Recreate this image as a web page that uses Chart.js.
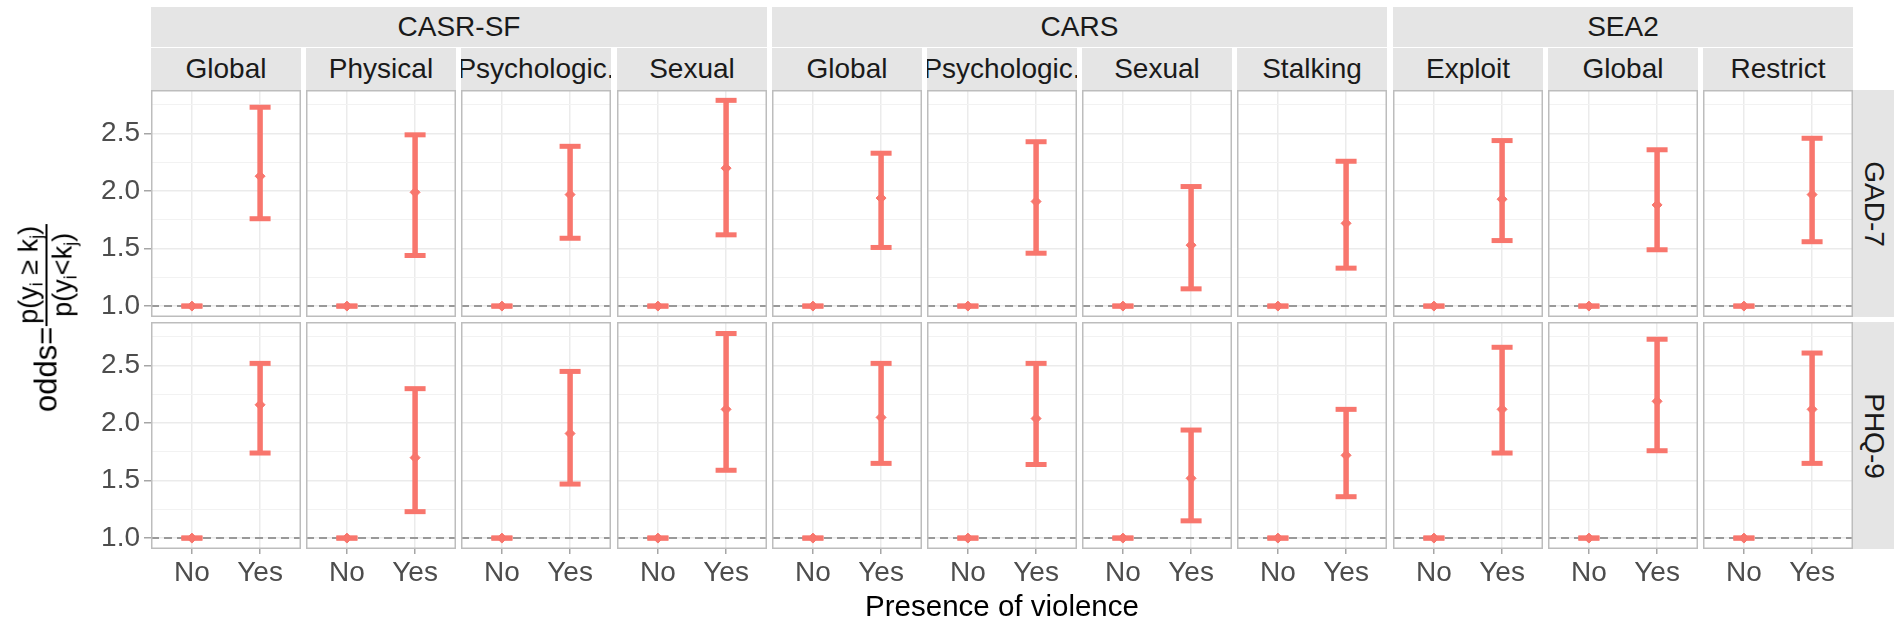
<!DOCTYPE html>
<html>
<head>
<meta charset="utf-8">
<script src="https://cdn.jsdelivr.net/npm/chart.js@4.4.1/dist/chart.umd.min.js"></script>
<style>
    html, body { margin: 0; padding: 0; background: #ffffff; }
    body { width: 1902px; height: 623px; position: relative; overflow: hidden;
           font-family: "Liberation Sans", Arial, sans-serif; }
    .strip { position: absolute; background: #e5e5e5; color: #1a1a1a; font-size: 28px;
             display: flex; align-items: center; justify-content: center;
             overflow: hidden; white-space: nowrap; box-sizing: border-box; }
    .strip-v span { display: inline-block; transform: rotate(90deg); }
    .panel { position: absolute; }
    #x-title { position: absolute; top: 591px; font-size: 29.5px; line-height: 30px; color: #000;
               transform: translateX(-50%); white-space: nowrap; }
    #y-title-anchor { position: absolute; width: 0; height: 0; }
    #y-title { position: absolute; transform: translate(-50%, -50%) rotate(-90deg);
               display: flex; align-items: center; white-space: nowrap; color: #000; }
    #y-title .lead { font-size: 31px; }
    #y-title .frac { display: flex; flex-direction: column; align-items: center; font-size: 27px;
                     line-height: 31px; margin-left: 1px; }
    #y-title .num { border-bottom: 2px solid #000; padding: 0 2px 1px 2px; }
    #y-title sub { font-size: 18px; vertical-align: -5px; line-height: 0; }
</style>
</head>
<body>
<div id="figure"></div>
<div id="x-title">Presence of violence</div>
<div id="y-title-anchor"><div id="y-title">
    <span class="lead">odds=</span>
    <span class="frac">
        <span class="num">p(y<sub>i</sub> ≥ k<sub>j</sub>)</span>
        <span class="den">p(y<sub>i</sub>&lt;k<sub>j</sub>)</span>
    </span>
</div></div>

<script>
// 패널 라벨 (열 방향)
const facetGroups = ['CASR-SF', 'CARS', 'SEA2'];
const groupSizes = [4, 4, 3];
const facetLabels = ['Global', 'Physical', 'Psychologic.', 'Sexual',
                     'Global', 'Psychologic.', 'Sexual', 'Stalking',
                     'Exploit', 'Global', 'Restrict'];
// 행 라벨
const outcomes = ['GAD-7', 'PHQ-9'];

// x 범주
const xLabels = ['No', 'Yes'];
const xPositions = [0, 1];

// 기준 범주 (No) 의 odds
const refOdds = [1, 1, 1, 1, 1, 1, 1, 1, 1, 1, 1];

// GAD-7 : Yes 추정치와 신뢰구간
const gadEst  = [2.13, 1.99, 1.97, 2.20, 1.94, 1.91, 1.53, 1.72, 1.93, 1.88, 1.97];
const gadLow  = [1.76, 1.44, 1.59, 1.62, 1.51, 1.46, 1.15, 1.33, 1.57, 1.49, 1.56];
const gadHigh = [2.73, 2.49, 2.39, 2.79, 2.33, 2.43, 2.04, 2.26, 2.44, 2.36, 2.46];

// PHQ-9 : Yes 추정치와 신뢰구간
const phqEst  = [2.16, 1.70, 1.91, 2.12, 2.05, 2.04, 1.52, 1.72, 2.12, 2.19, 2.12];
const phqLow  = [1.74, 1.23, 1.47, 1.59, 1.65, 1.64, 1.15, 1.36, 1.74, 1.76, 1.65];
const phqHigh = [2.52, 2.30, 2.45, 2.78, 2.52, 2.52, 1.94, 2.12, 2.66, 2.73, 2.61];

// y 축 눈금
const yGridValues = [1.0, 1.25, 1.5, 1.75, 2.0, 2.25, 2.5, 2.75];
const yLabelValues = [1.0, 1.5, 2.0, 2.5];

// 레이아웃
const PANEL_LEFT = 151;
const PANEL_PITCH = 155.2;
const PANEL_W = 150;
const ROW_TOP = [90, 322];
const ROW_H = 227;
const Y_AXIS_W = 91;
const X_AXIS_H = 42;
const STRIP_R_W = 41;
const Y_MIN = 0.905, Y_MAX = 2.88;
const X_MIN = -0.6, X_MAX = 1.6;

const RED = '#f8766d';
const FONT = "'Liberation Sans', Arial, sans-serif";
const BORDER = '#bdbdbd';
const TICK = '#a6a6a6';

function panelLeft(i) {
    return Math.round(PANEL_LEFT + i * PANEL_PITCH);
}

// 패널 테두리
const panelFrame = {
    id: 'panelFrame',
    afterDatasetsDraw(chart) {
        const a = chart.chartArea;
        const ctx = chart.ctx;
        ctx.save();
        ctx.strokeStyle = BORDER;
        ctx.lineWidth = 1.5;
        ctx.strokeRect(a.left + 0.75, a.top + 0.75, a.right - a.left - 1.5, a.bottom - a.top - 1.5);
        ctx.restore();
    }
};

function buildStrips() {
    const fig = document.getElementById('figure');
    let col = 0;
    facetGroups.forEach((g, gi) => {
        const first = col, last = col + groupSizes[gi] - 1;
        const div = document.createElement('div');
        div.className = 'strip';
        div.style.left = panelLeft(first) + 'px';
        div.style.width = (panelLeft(last) + PANEL_W - panelLeft(first)) + 'px';
        div.style.top = '7px';
        div.style.height = '40px';
        div.textContent = g;
        fig.appendChild(div);
        col += groupSizes[gi];
    });

    facetLabels.forEach((lab, i) => {
        const div = document.createElement('div');
        div.className = 'strip';
        div.style.left = panelLeft(i) + 'px';
        div.style.width = PANEL_W + 'px';
        div.style.top = '48px';
        div.style.height = '42px';
        div.textContent = lab;
        fig.appendChild(div);
    });

    outcomes.forEach((o, r) => {
        const div = document.createElement('div');
        div.className = 'strip strip-v';
        div.style.left = (panelLeft(facetLabels.length - 1) + PANEL_W) + 'px';
        div.style.width = STRIP_R_W + 'px';
        div.style.top = ROW_TOP[r] + 'px';
        div.style.height = ROW_H + 'px';
        div.innerHTML = '<span>' + o + '</span>';
        fig.appendChild(div);
    });

    // 축 제목 위치
    const center = (panelLeft(0) + panelLeft(facetLabels.length - 1) + PANEL_W) / 2;
    document.getElementById('x-title').style.left = center + 'px';
    const anchor = document.getElementById('y-title-anchor');
    anchor.style.left = '46px';
    anchor.style.top = '318px';
}

function buildPanel(col, row) {
    const est = row === 0 ? gadEst : phqEst;
    const low = row === 0 ? gadLow : phqLow;
    const high = row === 0 ? gadHigh : phqHigh;
    const isLeft = col === 0;
    const isBottom = row === outcomes.length - 1;

    const w = PANEL_W + (isLeft ? Y_AXIS_W : 0);
    const h = ROW_H + (isBottom ? X_AXIS_H : 0);

    const canvas = document.createElement('canvas');
    canvas.className = 'panel';
    canvas.width = w;
    canvas.height = h;
    canvas.style.width = w + 'px';
    canvas.style.height = h + 'px';
    canvas.style.left = (panelLeft(col) - (isLeft ? Y_AXIS_W : 0)) + 'px';
    canvas.style.top = ROW_TOP[row] + 'px';
    document.getElementById('figure').appendChild(canvas);

    const ref = refOdds[col];

    new Chart(canvas.getContext('2d'), {
        type: 'scatter',
        data: {
            datasets: [
                {   // 점 추정치
                    data: [{ x: xPositions[0], y: ref }, { x: xPositions[1], y: est[col] }],
                    pointStyle: 'rectRot',
                    pointRadius: 5,
                    backgroundColor: RED,
                    borderColor: RED,
                    borderWidth: 1,
                    order: 0
                },
                {   // 오차막대 끝
                    data: [
                        { x: xPositions[0], y: ref }, { x: xPositions[0], y: ref },
                        { x: xPositions[1], y: low[col] }, { x: xPositions[1], y: high[col] }
                    ],
                    pointStyle: 'line',
                    pointRadius: 10.5,
                    borderColor: RED,
                    borderWidth: 5,
                    order: 1
                },
                {   // 오차막대 세로선 (Yes)
                    type: 'line',
                    data: [{ x: xPositions[1], y: low[col] }, { x: xPositions[1], y: high[col] }],
                    borderColor: RED,
                    borderWidth: 5.5,
                    borderCapStyle: 'butt',
                    pointRadius: 0,
                    order: 2
                },
                {   // 기준선 odds = 1
                    type: 'line',
                    data: [{ x: X_MIN, y: 1 }, { x: X_MAX, y: 1 }],
                    borderColor: '#999999',
                    borderWidth: 2,
                    borderDash: [8, 5],
                    pointRadius: 0,
                    order: 3
                }
            ]
        },
        options: {
            responsive: false,
            animation: false,
            devicePixelRatio: 1,
            layout: { padding: 0, autoPadding: false },
            plugins: { legend: { display: false }, tooltip: { enabled: false } },
            scales: {
                x: {
                    type: 'linear',
                    min: X_MIN,
                    max: X_MAX,
                    afterBuildTicks: s => { s.ticks = xPositions.map(v => ({ value: v })); },
                    afterFit: s => {
                        s.height = isBottom ? X_AXIS_H : 0;
                        s.paddingLeft = 0;
                        s.paddingRight = 0;
                    },
                    ticks: {
                        display: isBottom,
                        autoSkip: false,
                        maxRotation: 0,
                        padding: 2,
                        color: '#4d4d4d',
                        font: { family: FONT, size: 28 },
                        callback: (v, i) => xLabels[i]
                    },
                    grid: {
                        color: '#ebebeb',
                        lineWidth: 1.5,
                        drawTicks: isBottom,
                        tickLength: 5,
                        tickColor: TICK,
                        tickWidth: 1.5
                    },
                    border: { display: false }
                },
                y: {
                    type: 'linear',
                    min: Y_MIN,
                    max: Y_MAX,
                    afterBuildTicks: s => { s.ticks = yGridValues.map(v => ({ value: v })); },
                    afterFit: s => {
                        s.width = isLeft ? Y_AXIS_W : 0;
                        s.paddingTop = 0;
                        s.paddingBottom = 0;
                    },
                    ticks: {
                        display: isLeft,
                        autoSkip: false,
                        padding: 4,
                        color: '#4d4d4d',
                        font: { family: FONT, size: 28 },
                        callback: v => yLabelValues.includes(v) ? v.toFixed(1) : ''
                    },
                    grid: {
                        color: c => yLabelValues.includes(c.tick.value) ? '#ebebeb' : '#f2f2f2',
                        lineWidth: c => yLabelValues.includes(c.tick.value) ? 1.5 : 1,
                        drawTicks: isLeft,
                        tickLength: 7,
                        tickColor: c => yLabelValues.includes(c.tick.value) ? TICK : 'rgba(0,0,0,0)',
                        tickWidth: 1.5
                    },
                    border: { display: false }
                }
            }
        },
        plugins: [panelFrame]
    });
}

document.addEventListener('DOMContentLoaded', function() {
    buildStrips();
    for (let r = 0; r < outcomes.length; r++) {
        for (let c = 0; c < facetLabels.length; c++) {
            buildPanel(c, r);
        }
    }
});
</script>
</body>
</html>
